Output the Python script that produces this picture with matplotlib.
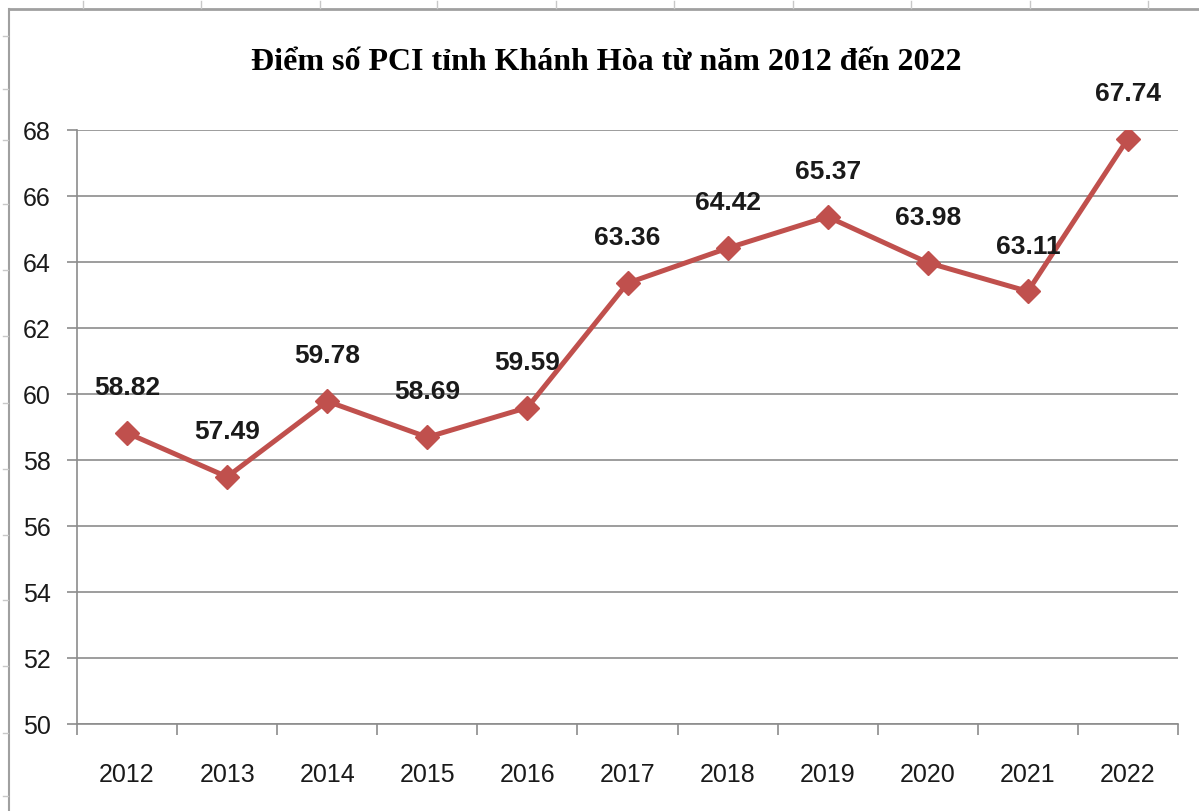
import matplotlib
matplotlib.use("Agg")
import matplotlib.pyplot as plt
from matplotlib.lines import Line2D
import numpy as np

# PCI scores of Khanh Hoa province
years = ["2012", "2013", "2014", "2015", "2016", "2017",
         "2018", "2019", "2020", "2021", "2022"]
pci = [58.82, 57.49, 59.78, 58.69, 59.59, 63.36,
       64.42, 65.37, 63.98, 63.11, 67.74]
y_ticks = [50, 52, 54, 56, 58, 60, 62, 64, 66, 68]

title = "Điểm số PCI tỉnh Khánh Hòa từ năm 2012 đến 2022"

sans = ["Liberation Sans", "DejaVu Sans"]
red = "#C0504D"
grey = "#8C8C8C"

W, H = 1199, 812
fig = plt.figure(figsize=(W / 100, H / 100), dpi=100)
ax = fig.add_axes([77 / W, 1 - 725 / H, 1101 / W, 594 / H])

x = np.arange(len(years))
ax.plot(x, pci, color=red, lw=3.6, marker="D", ms=12,
        markeredgecolor=red, markerfacecolor=red)
for xi, v in zip(x, pci):
    ax.annotate(f"{v:.2f}", (xi, v), xytext=(0, 33), textcoords="offset points",
                ha="center", va="center", fontsize=19, fontweight="bold",
                family=sans, color="#1a1a1a")

ax.set_xlim(-0.5, len(years) - 0.5)
ax.set_ylim(50, 68)
ax.set_yticks(y_ticks)
ax.tick_params(axis="y", length=7, width=1.2, color=grey, pad=12,
               labelsize=18, labelcolor="#1a1a1a")
ax.set_xticks(x)
ax.set_xticklabels(years)
ax.tick_params(axis="x", length=0, pad=27, labelsize=18, labelcolor="#1a1a1a")
ax.set_xticks(np.arange(len(years) + 1) - 0.5, minor=True)
ax.tick_params(axis="x", which="minor", length=8, width=1.2, color=grey)
for lab in ax.get_xticklabels() + ax.get_yticklabels():
    lab.set_family(sans)

ax.grid(axis="y", color=grey, lw=1.2)
ax.set_axisbelow(True)
for s in ["top", "right"]:
    ax.spines[s].set_visible(False)
for s in ["left", "bottom"]:
    ax.spines[s].set_color(grey)
    ax.spines[s].set_linewidth(1.2)

fig.text(606 / W, 1 - 63 / H, title, ha="center", va="center",
         fontsize=23, fontweight="bold", family=["Liberation Serif", "DejaVu Serif"])

# sheet frame around the pasted chart
fig.add_artist(Line2D([9 / W, 1], [1 - 10 / H] * 2, color="#A0A0A0", lw=2))
fig.add_artist(Line2D([9 / W] * 2, [0, 1 - 10 / H], color="#A0A0A0", lw=1.5))
for px in [83, 201, 320, 437, 556, 674, 793, 911, 1030, 1148]:
    fig.add_artist(Line2D([px / W] * 2, [1 - 2 / H, 1 - 9 / H], color="#C8C8C8", lw=1))
for py in [37, 90, 141, 205, 271, 337, 404, 470, 536, 601, 667, 734, 797]:
    fig.add_artist(Line2D([3 / W, 8 / W], [1 - py / H] * 2, color="#C8C8C8", lw=1))

fig.savefig("out.png", dpi=100)
